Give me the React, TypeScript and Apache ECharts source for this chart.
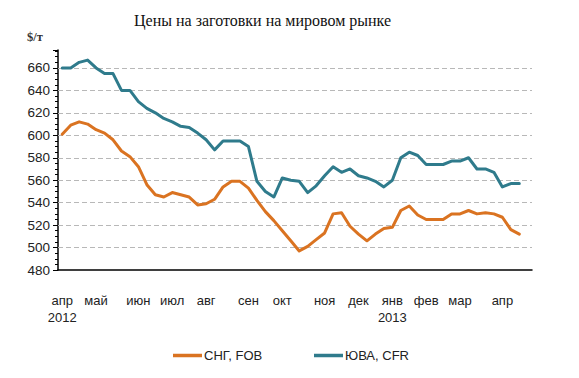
import React, { useEffect, useRef } from "react";
import * as echarts from "echarts";

const TITLE = "Цены на заготовки на мировом рынке";
const UNIT = "$/т";
const seriesNames = ["СНГ, FOB", "ЮВА, CFR"];

// weekly observations, April 2012 – April 2013
const cisFob = [
  601, 609, 612, 610, 605, 602, 596, 586, 581, 572,
  556, 547, 545, 549, 547, 545, 538, 539, 543, 554,
  559, 559, 553, 542, 532, 524, 515, 506, 497, 501,
  507, 513, 530, 531, 519, 512, 506, 512, 517, 518,
  533, 537, 529, 525, 525, 525, 530, 530, 533, 530,
  531, 530, 527, 516, 512,
];
const seaCfr = [
  660, 660, 665, 667, 660, 655, 655, 640, 640, 630,
  624, 620, 615, 612, 608, 607, 602, 596, 587, 595,
  595, 595, 590, 559, 550, 545, 562, 560, 559, 549,
  555, 564, 572, 567, 570, 564, 562, 559, 554, 560,
  580, 585, 582, 574, 574, 574, 577, 577, 580, 570,
  570, 567, 554, 557, 557,
];

// month label positions (week index) and their texts
const monthTickIdx = [0, 4, 9, 13, 17, 22, 26, 31, 35, 39, 43, 47, 52];
const monthLabels = ["апр\n2012", "май", "июн", "июл", "авг", "сен", "окт", "ноя", "дек", "янв\n2013", "фев", "мар", "апр"];

const yTicks = [480, 500, 520, 540, 560, 580, 600, 620, 640, 660];
const gridValues = [500, 520, 540, 560, 580, 600, 620, 640, 660];

const colors = ["#DA7321", "#2F7B8C"];

export default function App() {
  const ref = useRef<HTMLDivElement>(null);
  useEffect(() => {
    if (!ref.current) return;
    const chart = echarts.init(ref.current, null, { renderer: "svg" });
    const nCats = cisFob.length + 1;
    const categories = Array.from({ length: nCats }, (_, i) => "w" + i);
    const labelMap: Record<number, string> = {};
    monthTickIdx.forEach((idx, k) => (labelMap[idx] = monthLabels[k]));
    const tickSet = new Set(monthTickIdx);
    const sansFont = "Liberation Sans";

    const legendBase = {
      top: 344,
      icon: "rect",
      itemWidth: 29,
      itemHeight: 3.5,
      textStyle: { fontFamily: sansFont, fontSize: 13, color: "#222", padding: [0, 0, 0, -3] },
    };

    chart.setOption({
      animation: false,
      backgroundColor: "#ffffff",
      color: colors,
      graphic: [
        {
          type: "text",
          left: 134,
          top: 12,
          style: {
            text: TITLE,
            fontFamily: "Liberation Serif",
            fontSize: 16,
            fill: "#111",
          },
        },
        {
          type: "text",
          left: 27,
          top: 30,
          style: {
            text: UNIT,
            fontFamily: "Liberation Serif",
            fontWeight: "bold",
            fontSize: 12.5,
            fill: "#333",
          },
        },
      ],
      legend: [
        { ...legendBase, left: 168, data: [seriesNames[0]] },
        { ...legendBase, left: 309, data: [seriesNames[1]] },
      ],
      grid: { left: 58, right: 47, top: 50, bottom: 108, containLabel: false },
      xAxis: {
        type: "category",
        data: categories,
        boundaryGap: true,
        axisLine: { lineStyle: { color: "#000", width: 1.5 } },
        axisTick: { show: false },
        splitLine: { show: false },
        axisLabel: {
          interval: (index: number) => tickSet.has(index),
          formatter: (_v: string, index: number) => labelMap[index] ?? "",
          margin: 22,
          fontFamily: sansFont,
          fontSize: 13,
          lineHeight: 17,
          color: "#222",
        },
      },
      yAxis: {
        type: "value",
        min: 480,
        max: 676,
        interval: 20,
        axisLine: { show: true, lineStyle: { color: "#000", width: 1.5 } },
        axisTick: { show: true, length: 5, lineStyle: { color: "#000" } },
        minorTick: { show: true, splitNumber: 4, length: 3, lineStyle: { color: "#000" } },
        splitLine: { show: false },
        axisLabel: {
          showMaxLabel: false,
          formatter: (v: number) => (yTicks.includes(v) ? String(v) : ""),
          margin: 8,
          fontFamily: sansFont,
          fontSize: 13.5,
          color: "#222",
        },
      },
      series: [
        {
          name: seriesNames[0],
          type: "line",
          data: cisFob,
          symbol: "none",
          itemStyle: { color: colors[0] },
          lineStyle: { width: 3, color: colors[0], cap: "round", join: "round" },
          z: 3,
          markLine: {
            silent: true,
            symbol: "none",
            label: { show: false },
            lineStyle: { color: "#b8b8b8", type: [5, 3], width: 1 },
            data: gridValues.map((v) => ({ yAxis: v })),
            z: 1,
          },
        },
        {
          name: seriesNames[1],
          type: "line",
          data: seaCfr,
          symbol: "none",
          itemStyle: { color: colors[1] },
          lineStyle: { width: 3, color: colors[1], cap: "round", join: "round" },
          z: 3,
        },
      ],
    });
    return () => chart.dispose();
  }, []);
  return (
    <div
      ref={ref}
      style={{ position: "fixed", left: 0, top: 0, width: 579, height: 378 }}
    />
  );
}
